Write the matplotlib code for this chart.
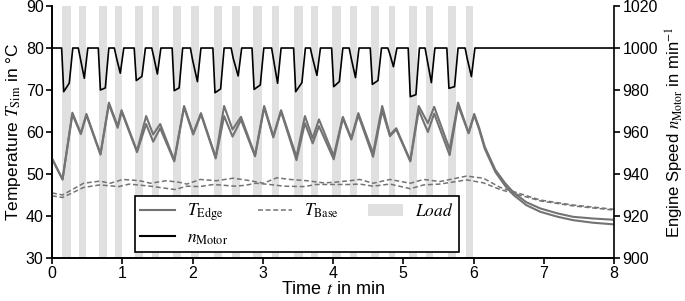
import matplotlib
matplotlib.use("Agg")
import matplotlib.pyplot as plt
from matplotlib.lines import Line2D
from matplotlib.patches import Patch

plt.rcParams["font.family"] = ["Liberation Sans", "DejaVu Sans"]
plt.rcParams["mathtext.fontset"] = "stix"

# load phases (min)
load_start = [0.147, 0.384, 0.669, 0.897, 1.18, 1.43, 1.72, 1.98, 2.30, 2.56, 2.857,
              3.136, 3.449, 3.687, 3.99, 4.24, 4.54, 4.79, 5.08, 5.32, 5.63, 5.89]
load_end = [0.266, 0.48, 0.779, 0.992, 1.30, 1.52, 1.83, 2.09, 2.42, 2.67, 2.985,
            3.231, 3.577, 3.791, 4.11, 4.34, 4.66, 4.88, 5.20, 5.42, 5.75, 5.99]

# engine speed per load phase: value right after drop, value at end of phase
n_idle = 1000.0
n_drop = [979.2, 995.0, 980.0, 995.5, 984.5, 995.5, 979.7, 994.5, 978.7, 995.0, 980.3,
          994.0, 979.2, 995.5, 981.6, 995.0, 982.7, 997.0, 976.8, 994.5, 980.8, 995.0]
n_end = [983.3, 985.6, 981.0, 988.0, 986.5, 987.6, 981.0, 984.0, 980.5, 986.7, 982.4,
         983.2, 983.5, 987.0, 984.0, 985.9, 984.5, 991.1, 977.8, 983.5, 981.6, 986.4]

# edge temperatures (two sensors)
t_edge = [0.0, 0.15, 0.29, 0.41, 0.49, 0.69, 0.81, 0.935, 0.99, 1.21, 1.34, 1.44, 1.54,
          1.74, 1.88, 2.01, 2.12, 2.33, 2.45, 2.57, 2.69, 2.89, 3.02, 3.15, 3.26, 3.48,
          3.60, 3.71, 3.80, 4.01, 4.14, 4.26, 4.36, 4.57, 4.70, 4.81, 4.90, 5.10, 5.22,
          5.35, 5.44, 5.66, 5.78, 5.93, 6.01, 6.08, 6.16, 6.31, 6.45, 6.57, 6.75, 6.95,
          7.2, 7.42, 7.7, 8.0]
edge_a = [53.7, 48.7, 64.6, 59.7, 64.3, 54.8, 67.0, 61.4, 65.2, 55.5, 63.8, 59.4, 61.9,
          53.3, 66.2, 59.7, 64.5, 54.0, 66.2, 60.6, 63.6, 54.5, 66.2, 59.0, 65.2, 54.1,
          63.8, 58.5, 63.0, 54.3, 63.6, 58.5, 64.5, 54.9, 66.2, 59.3, 60.9, 53.2, 66.2,
          62.1, 66.0, 55.9, 67.0, 59.8, 64.3, 61.0, 56.5, 51.0, 47.8, 45.6, 43.3, 41.8,
          40.6, 39.8, 39.4, 39.1]
edge_b = [53.7, 48.7, 64.2, 59.5, 64.0, 54.6, 66.6, 61.0, 64.9, 55.2, 61.9, 57.7, 60.9,
          53.0, 65.9, 59.4, 64.2, 53.7, 63.8, 58.9, 62.9, 54.2, 65.8, 58.7, 64.9, 53.3,
          62.1, 57.3, 61.4, 53.5, 63.3, 58.2, 64.0, 54.1, 65.1, 59.0, 60.6, 53.0, 65.2,
          60.0, 64.4, 54.5, 66.4, 59.7, 64.0, 60.6, 56.0, 50.5, 47.2, 45.0, 42.6, 41.0,
          39.8, 39.0, 38.4, 38.0]

# base temperatures (two sensors)
t_base_a = [0.0, 0.15, 0.45, 0.68, 0.83, 1.01, 1.25, 1.40, 1.63, 1.82, 1.92, 2.11, 2.34,
            2.58, 2.82, 3.01, 3.20, 3.39, 3.63, 3.86, 4.0, 4.24, 4.38, 4.57, 4.81, 5.10,
            5.29, 5.52, 5.90, 6.14, 6.38, 6.57, 6.95, 7.42, 8.0]
base_a = [45.5, 45.0, 47.8, 48.3, 47.8, 48.7, 48.4, 47.8, 48.4, 48.0, 47.6, 48.7, 48.4,
          49.0, 48.4, 47.8, 49.1, 48.7, 48.4, 47.9, 48.0, 48.4, 48.7, 47.8, 48.7, 47.8,
          48.7, 48.2, 49.5, 49.0, 46.8, 45.8, 43.8, 42.6, 41.6]
t_base_b = [0.0, 0.15, 0.45, 0.68, 0.95, 1.1, 1.4, 1.75, 1.92, 2.1, 2.3, 2.6, 2.75, 2.9,
            3.1, 3.3, 3.6, 3.75, 4.0, 4.24, 4.38, 4.57, 4.81, 5.10, 5.29, 5.52, 5.90,
            6.14, 6.38, 6.57, 6.95, 7.42, 8.0]
base_b = [44.8, 44.4, 46.8, 47.4, 47.0, 47.6, 47.1, 46.3, 47.1, 47.0, 47.5, 47.1, 47.3,
          47.8, 47.5, 47.1, 47.0, 47.5, 47.5, 47.5, 47.6, 47.1, 47.6, 46.5, 47.4, 47.6,
          48.6, 47.9, 46.3, 45.4, 43.6, 42.4, 41.4]

GREY = "#737373"
BAND = "#e0e0e0"
DASH = (0, (3.2, 1.8))

# engine speed polyline from the load phases
t_n, n_vals = [0.0], [n_idle]
for s, e, d, f in zip(load_start, load_end, n_drop, n_end):
    t_n += [s - 0.01, s + 0.02, e - 0.02, e + 0.03]
    n_vals += [n_idle, d, f, n_idle]
t_n.append(8.0)
n_vals.append(n_idle)

fig, ax = plt.subplots(figsize=(6.85, 3.01), dpi=100)
fig.subplots_adjust(left=0.0759, right=0.8964, bottom=0.1429, top=0.980)
ax2 = ax.twinx()

for s, e in zip(load_start, load_end):
    ax.axvspan(s, e, color=BAND, lw=0, zorder=0)

ax.plot(t_edge, edge_a, color=GREY, lw=1.5, zorder=3)
ax.plot(t_edge, edge_b, color=GREY, lw=1.5, zorder=3)
ax.plot(t_base_a, base_a, color=GREY, lw=1.1, ls=DASH, zorder=3)
ax.plot(t_base_b, base_b, color=GREY, lw=1.1, ls=DASH, zorder=3)
ax2.plot(t_n, n_vals, color="black", lw=1.2, zorder=3)

ax.set_xlim(0, 8)
ax.set_ylim(30, 90)
ax2.set_ylim(900, 1020)
ax.set_xticks(range(0, 9))
ax.set_yticks(range(30, 91, 10))
ax2.set_yticks(range(900, 1021, 20))

for a in (ax, ax2):
    a.spines["top"].set_visible(False)
    for sp in a.spines.values():
        sp.set_linewidth(1.2)
    a.tick_params(direction="out", width=1.2, length=4, labelsize=11.5, pad=2)
ax.spines["right"].set_visible(False)

ax.set_xlabel(r"Time $t$ in min", fontsize=13, labelpad=0)
ax.set_ylabel(r"Temperature $T_\mathrm{Sim}$ in °C", fontsize=12.5, labelpad=2)
ax2.set_ylabel(r"Engine Speed $n_\mathrm{Motor}$ in min$^{-1}$", fontsize=12, labelpad=4)

handles = [
    Line2D([], [], color=GREY, lw=1.5),
    Line2D([], [], color="black", lw=1.5),
    Line2D([], [], color=GREY, lw=1.1, ls=DASH),
    Patch(color=BAND, lw=0),
]
labels = [r"$T_\mathrm{Edge}$", r"$n_\mathrm{Motor}$", r"$T_\mathrm{Base}$", r"$Load$"]
leg = ax2.legend(handles, labels, ncol=3, loc="lower left", mode="expand",
                 bbox_to_anchor=(0.148, 0.024, 0.576, 0.218), fontsize=12.5,
                 fancybox=False, framealpha=1, edgecolor="black",
                 handlelength=2.0, borderaxespad=0, borderpad=0.3,
                 labelspacing=0.4, handletextpad=0.7)
leg.get_frame().set_linewidth(1.2)
leg.set_zorder(10)

fig.savefig("out.png", dpi=100)
